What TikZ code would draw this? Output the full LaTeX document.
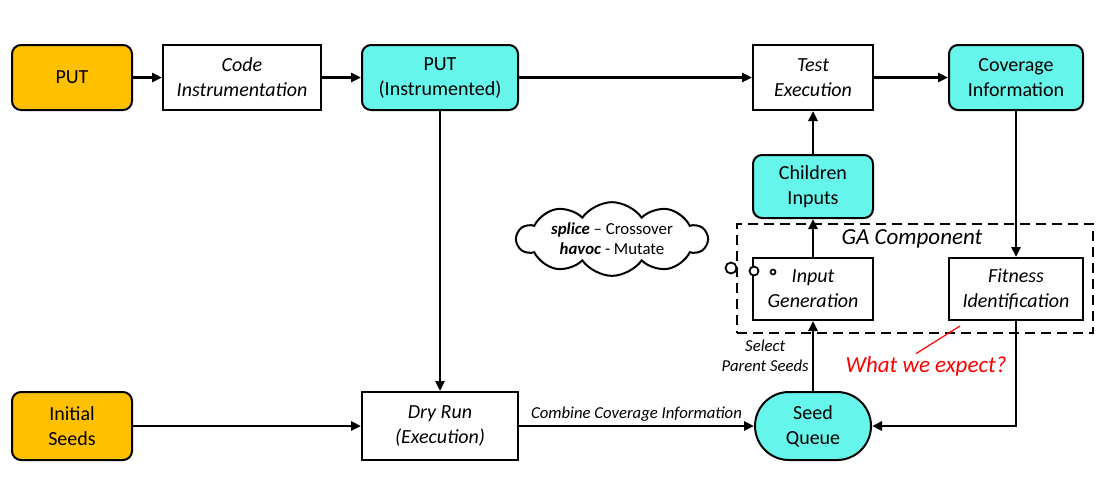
\documentclass[tikz,border=0pt]{standalone}
\usepackage{fontspec}
\setmainfont{Carlito}
\usepackage{xcolor}
\usepackage{tikz}
\usetikzlibrary{arrows.meta, positioning, shapes.misc, shapes.symbols}
\definecolor{putorange}{HTML}{FFC000}
\definecolor{instcyan}{HTML}{66F5EA}
\tikzset{
  blk/.style={draw, line width=2pt, minimum height=65pt, inner sep=2pt, align=center, font=\fontsize{20}{25}\selectfont},
  srcbox/.style={blk, rounded corners=9pt, fill=putorange, minimum width=120pt},
  databox/.style={blk, rounded corners=9pt, fill=instcyan},
  procbox/.style={blk, fill=white, font=\fontsize{20}{25}\selectfont\itshape},
  flow/.style={line width=2.7pt, -{Triangle[length=10pt,width=9pt]}},
  bubble/.style={circle, draw, line width=1.8pt, inner sep=0pt, fill=white},
  smalllabel/.style={font=\fontsize{16.7}{20}\selectfont\itshape, inner sep=3pt},
}

\begin{document}
\begin{tikzpicture}[x=1pt, y=-1pt]
  \useasboundingbox (0,0) rectangle (1115,485);

  \node (ga) [draw, dashed, line width=2pt, dash pattern=on 10pt off 6pt, minimum width=356pt, minimum height=109pt] at (915,278.5) {};
  \node (galabel) [font=\fontsize{23}{27}\selectfont\itshape] at (912,239) {GA Component};

  \node (put) [srcbox] at (72,77.5) {PUT};
  \node (codeinst) [procbox, minimum width=158pt] at (242,77.5) {Code\\Instrumentation};
  \node (putinst) [databox, minimum width=156pt] at (440,77.5) {PUT\\(Instrumented)};
  \node (testexec) [procbox, minimum width=120pt] at (813,77.5) {Test\\Execution};
  \node (covinfo) [databox, minimum width=134pt] at (1016,77.5) {Coverage\\Information};
  \node (children) [databox, minimum width=120pt, minimum height=63pt] at (813,186.5) {Children\\Inputs};
  \node (inputgen) [procbox, minimum width=120pt, minimum height=62pt] at (813,289) {Input\\Generation};
  \node (fitness) [procbox, minimum width=134pt, minimum height=62pt] at (1016,289) {Fitness\\Identification};
  \node (seeds) [srcbox, minimum height=68pt] at (72,426) {Initial\\Seeds};
  \node (dryrun) [procbox, minimum width=156pt, minimum height=68pt] at (440,426) {Dry Run\\(Execution)};
  \node (queue) [blk, rounded rectangle, fill=instcyan, minimum width=120pt, minimum height=68pt] at (813,426) {Seed\\Queue};

  \node (cloud) [cloud, cloud puffs=10, cloud puff arc=110, aspect=3.2, draw, line width=2pt, minimum width=190pt, minimum height=66pt, inner sep=-4pt, align=center, font=\fontsize{16.8}{20}\selectfont] at (612,239) {\textbf{\textit{splice}} -- Crossover\\\textbf{\textit{havoc}} - Mutate};
  \node (bub1) [bubble, minimum size=11pt] at (731,268) {};
  \node (bub2) [bubble, minimum size=9pt] at (754,271) {};
  \node (bub3) [bubble, minimum size=5pt, line width=1.6pt] at (773,272) {};

  \draw[flow] (put) -- (codeinst);
  \draw[flow] (codeinst) -- (putinst);
  \draw[flow] (putinst) -- (testexec);
  \draw[flow] (testexec) -- (covinfo);
  \draw[flow] (covinfo) -- (fitness);
  \draw[flow] (children) -- (testexec);
  \draw[flow] (inputgen) -- (children);
  \draw[flow] (putinst) -- (dryrun);
  \draw[flow] (seeds) -- (dryrun);
  \draw[flow] (dryrun) -- node[smalllabel, above] {Combine Coverage Information} (queue);
  \draw[flow] (queue) -- node[smalllabel, left, align=center] {Select\\Parent Seeds} (inputgen);
  \draw[flow] (fitness) |- (queue);

  \node (expect) [font=\fontsize{23}{27}\selectfont\itshape, text=red] at (926,366) {What we expect?};
  \coordinate (pin) at (960,326);
  \draw[red, line width=1.2pt] (pin) -- ([xshift=-10pt, yshift=-1pt]expect.north);
\end{tikzpicture}
\end{document}
